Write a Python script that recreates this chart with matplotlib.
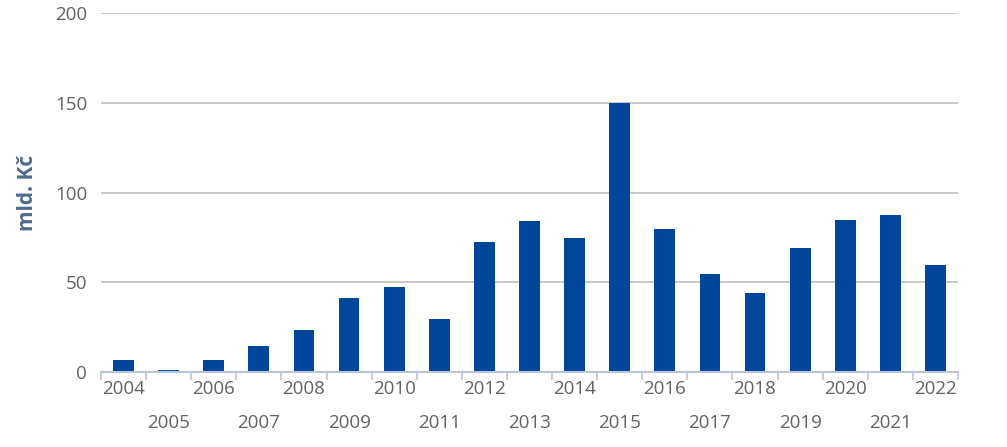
import matplotlib
matplotlib.use('Agg')
import matplotlib.pyplot as plt
import numpy as np

# Data
years = [str(y) for y in range(2004, 2023)]
values = [6.5, 1.3, 6.5, 14.7, 23.2, 41.3, 47.5, 29.6, 72.6, 84.4,
          74.9, 149.7, 79.9, 54.5, 44.1, 69.2, 84.9, 87.2, 59.7]
yticks = [0, 50, 100, 150, 200]

plt.rcParams['font.family'] = ['Open Sans', 'DejaVu Sans']

fig = plt.figure(figsize=(10.07, 4.47), dpi=100)
ax = fig.add_axes([101 / 1007, 1 - 372 / 447, (958 - 101) / 1007, (372 - 13) / 447])

x = np.arange(len(years))
ax.bar(x, values, width=0.46, color='#00479b', zorder=3)

ax.set_xlim(-0.5, len(years) - 0.5)
ax.set_ylim(0, 200)
ax.set_yticks(yticks)
ax.yaxis.grid(True, color='#c4c4c4', linewidth=1.3, zorder=0)
ax.tick_params(axis='y', length=0, pad=10, labelsize=13.5, labelcolor='#626262')

# labels at centers, alternating rows
ax.set_xticks(x)
ax.set_xticklabels(years)
ax.tick_params(axis='x', which='major', length=0, labelsize=13.5, labelcolor='#626262')
for i, t in enumerate(ax.xaxis.get_major_ticks()):
    t.set_pad(6 if i % 2 == 0 else 30)

# tick marks at category boundaries
ax.set_xticks(np.arange(-0.5, len(years)), minor=True)
ax.tick_params(axis='x', which='minor', length=6, width=1.2, color='#b9c4d8')

for s in ['top', 'right', 'left']:
    ax.spines[s].set_visible(False)
ax.spines['bottom'].set_color('#b9c4d8')
ax.spines['bottom'].set_linewidth(1.5)
ax.spines['bottom'].set_zorder(4)

ax.set_ylabel('mld. Kč', fontsize=15, fontweight='bold', color='#4e6a8e', labelpad=12)

fig.savefig('out.png', dpi=100)
